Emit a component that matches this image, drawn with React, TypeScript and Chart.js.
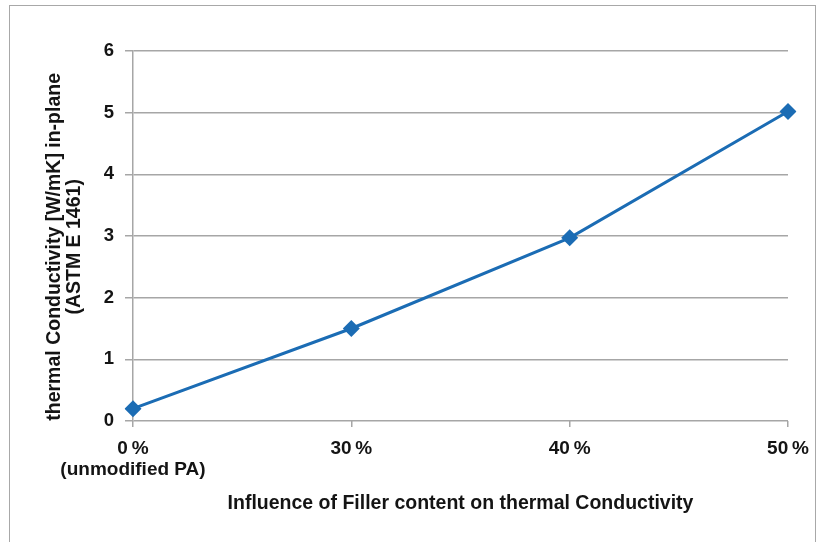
import React, { useEffect, useRef } from "react";
import { Chart, registerables } from "chart.js";

Chart.register(...registerables);

const categories: (string | string[])[] = [["0\u2009%", "(unmodified PA)"], "30\u2009%", "40\u2009%", "50\u2009%"];
const conductivity = [0.2, 1.5, 2.97, 5.02];
const yMin = 0;
const yMax = 6;
const yStep = 1;
const xTitle = "Influence of Filler content on thermal Conductivity";
const yTitle = ["thermal Conductivity [W/mK] in-plane    ", "(ASTM E 1461)    "];

const FONT = "'Liberation Sans', Arial, Helvetica, sans-serif";
const BLUE = "#1b6cb4";
const GRID = "#a6a6a6";
const TEXT = "#141414";

export default function App() {
  const ref = useRef<HTMLCanvasElement | null>(null);

  useEffect(() => {
    if (!ref.current) return;
    const chart = new Chart(ref.current, {
      type: "line",
      data: {
        labels: categories,
        datasets: [
          {
            data: conductivity,
            borderColor: BLUE,
            backgroundColor: BLUE,
            borderWidth: 3,
            tension: 0,
            pointStyle: "rectRot",
            pointRadius: 8.5,
            pointHoverRadius: 8.5,
            pointBorderWidth: 0,
            pointBackgroundColor: BLUE,
            fill: false,
          },
        ],
      },
      options: {
        animation: false,
        responsive: false,
        devicePixelRatio: 1,
        events: [],
        layout: { padding: { left: 0, top: 51, right: 37, bottom: 0 } },
        plugins: {
          legend: { display: false },
          tooltip: { enabled: false },
          title: { display: false },
        },
        scales: {
          x: {
            type: "category",
            offset: false,
            afterFit: (s: any) => {
              s.height = 121;
            },
            grid: {
              display: true,
              drawOnChartArea: false,
              drawTicks: true,
              tickLength: 6,
              color: GRID,
              lineWidth: 1.5,
            },
            border: { display: false },
            ticks: {
              color: TEXT,
              font: { family: FONT, size: 19, weight: "bold", lineHeight: 1.1 },
              padding: 11,
              maxRotation: 0,
              autoSkip: false,
            },
            title: {
              display: true,
              text: xTitle,
              color: TEXT,
              font: { family: FONT, size: 19.5, weight: "bold", lineHeight: 1.2 },
              padding: { top: 0, bottom: 27 },
            },
          },
          y: {
            min: yMin,
            max: yMax,
            afterFit: (s: any) => {
              s.width = 133;
            },
            grid: {
              color: GRID,
              lineWidth: 1.5,
              drawTicks: true,
              tickLength: 8,
            },
            border: { display: true, color: GRID, width: 1.5 },
            ticks: {
              stepSize: yStep,
              color: TEXT,
              font: { family: FONT, size: 18.5, weight: "bold" },
              padding: 11,
            },
            title: {
              display: true,
              text: yTitle,
              color: TEXT,
              font: { family: FONT, size: 19.5, weight: "bold", lineHeight: 1.05 },
              padding: { top: 44, bottom: 0 },
            },
          },
        },
      },
    });
    return () => chart.destroy();
  }, []);

  return (
    <div style={{ position: "fixed", left: 0, top: 0, width: 825, height: 542, background: "#fff", overflow: "hidden" }}>
      <div
        style={{
          position: "absolute",
          left: 9,
          top: 5,
          width: 807,
          height: 600,
          border: "1px solid #a8a8a8",
          boxSizing: "border-box",
        }}
      />
      <canvas ref={ref} width={825} height={542} style={{ position: "absolute", left: 0, top: 0, width: 825, height: 542 }} />
    </div>
  );
}
